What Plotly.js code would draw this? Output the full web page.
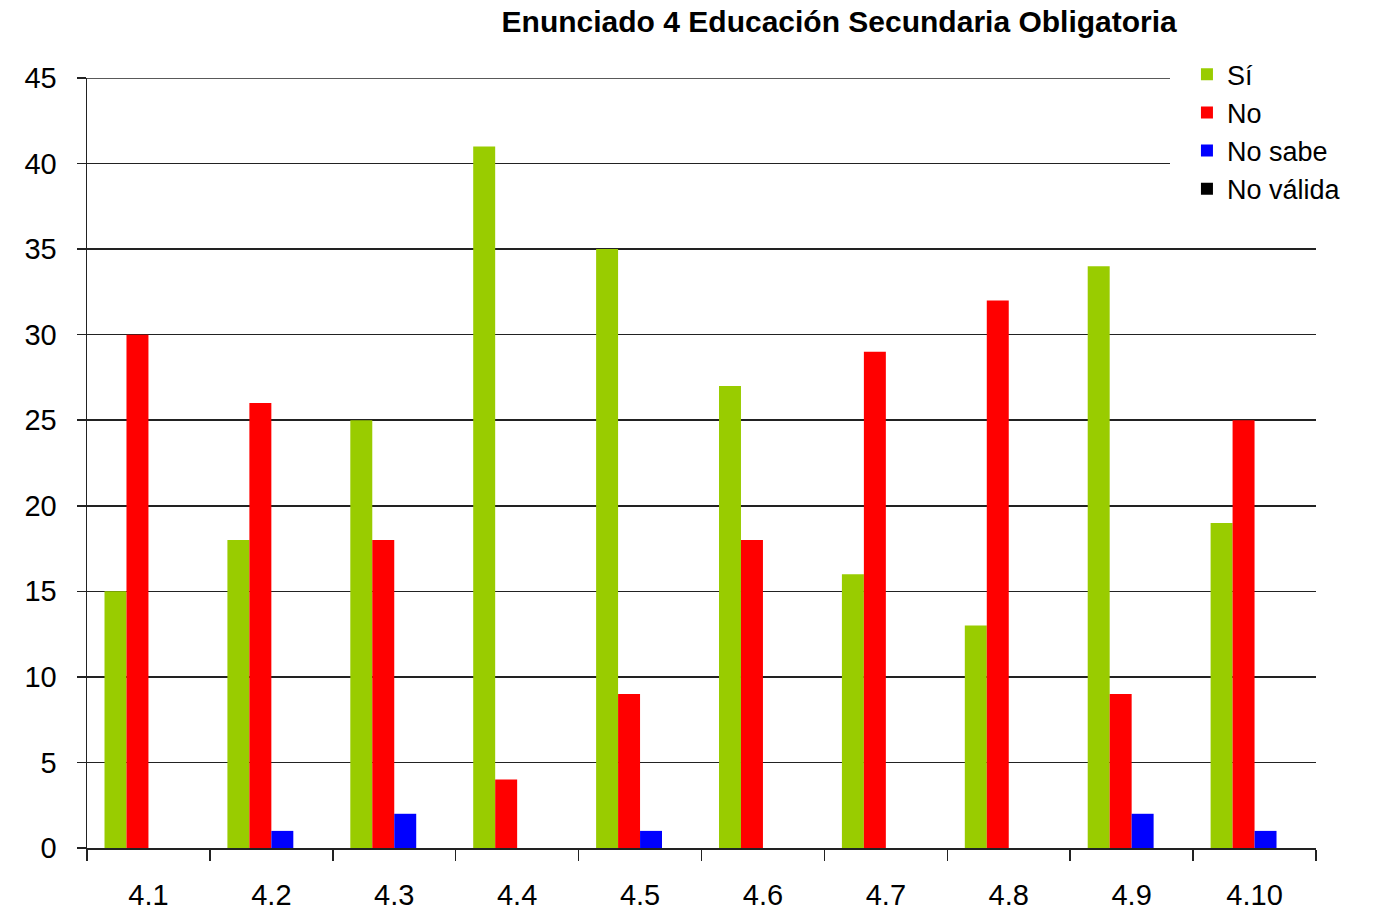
<!DOCTYPE html>
<html>
<head>
<meta charset="utf-8">
<script src="https://cdn.plot.ly/plotly-3.0.1.min.js"></script>
<style>html,body{margin:0;padding:0;background:#fff;}#chart{width:1378px;height:912px;}</style>
</head>
<body>
<div id="chart"></div>
<script>
const categories = ["4.1","4.2","4.3","4.4","4.5","4.6","4.7","4.8","4.9","4.10"];
const si       = [15, 18, 25, 41, 35, 27, 16, 13, 34, 19];
const no       = [30, 26, 18, 4, 9, 18, 29, 32, 9, 25];
const noSabe   = [0, 1, 2, 0, 1, 0, 0, 0, 2, 1];
const noValida = [0, 0, 0, 0, 0, 0, 0, 0, 0, 0];
const seriesNames = ["Sí", "No", "No sabe", "No válida"];
const seriesColors = ["#99cc00", "#ff0000", "#0000ff", "#000000"];
const yTicks = [0, 5, 10, 15, 20, 25, 30, 35, 40, 45];

const FONT = "Liberation Sans, Arial, sans-serif";
const values = [si, no, noSabe, noValida];
const traces = values.map((v, i) => ({
  type: "bar",
  x: categories,
  y: v,
  name: seriesNames[i],
  marker: {color: seriesColors[i], line: {width: 0}},
  hoverinfo: "skip"
}));

const GRID = "#222222";
const layout = {
  width: 1378, height: 912,
  paper_bgcolor: "#ffffff", plot_bgcolor: "#ffffff",
  margin: {l: 87, r: 62, t: 78, b: 64, pad: 0},
  barmode: "group", bargap: 0.285, bargroupgap: 0,
  font: {family: FONT, color: "#000000", size: 28},
  title: {
    text: "<b>Enunciado 4 Educación Secundaria Obligatoria</b>",
    font: {family: FONT, size: 30, color: "#000000"},
    x: 0.609, xref: "container", xanchor: "center",
    y: 0.976, yref: "container", yanchor: "middle"
  },
  xaxis: {
    type: "category",
    showgrid: false,
    showline: true, linecolor: GRID, linewidth: 1.5,
    ticks: "outside", tickson: "boundaries", ticklen: 11, tickwidth: 1.5, tickcolor: GRID,
    tickfont: {family: FONT, size: 29, color: "#000000"},
    ticklabelstandoff: 21,
    zeroline: false, fixedrange: true
  },
  yaxis: {
    range: [0, 45],
    tickvals: yTicks,
    ticktext: yTicks.map(String),
    showgrid: true, gridcolor: GRID, gridwidth: 1.5,
    showline: true, linecolor: GRID, linewidth: 1.5,
    ticks: "outside", ticklen: 9, tickwidth: 1.5, tickcolor: GRID,
    tickfont: {family: FONT, size: 29, color: "#000000"},
    ticklabelstandoff: 14,
    zeroline: false, fixedrange: true
  },
  shapes: [
    // top gridline at 45 (Plotly omits the grid line at the range edge)
    {type: "line", xref: "paper", yref: "y", x0: 0, x1: 1, y0: 45, y1: 45,
     line: {color: GRID, width: 1.5}, layer: "above"},
    // white area behind the legend, hiding the gridlines it overlaps
    {type: "rect", xref: "paper", yref: "paper", x0: 0.8812, x1: 1.0, y0: 0.84, y1: 1.01,
     fillcolor: "#ffffff", line: {width: 0}, layer: "above"}
  ],
  legend: {
    x: 0.895, xanchor: "left", y: 1.036, yanchor: "top",
    bgcolor: "rgba(255,255,255,0)", borderwidth: 0,
    font: {family: FONT, size: 27, color: "#000000"},
    tracegroupgap: 0, itemclick: false, itemdoubleclick: false
  },
  showlegend: true
};

Plotly.newPlot("chart", traces, layout, {displayModeBar: false, staticPlot: true});
</script>
</body>
</html>
